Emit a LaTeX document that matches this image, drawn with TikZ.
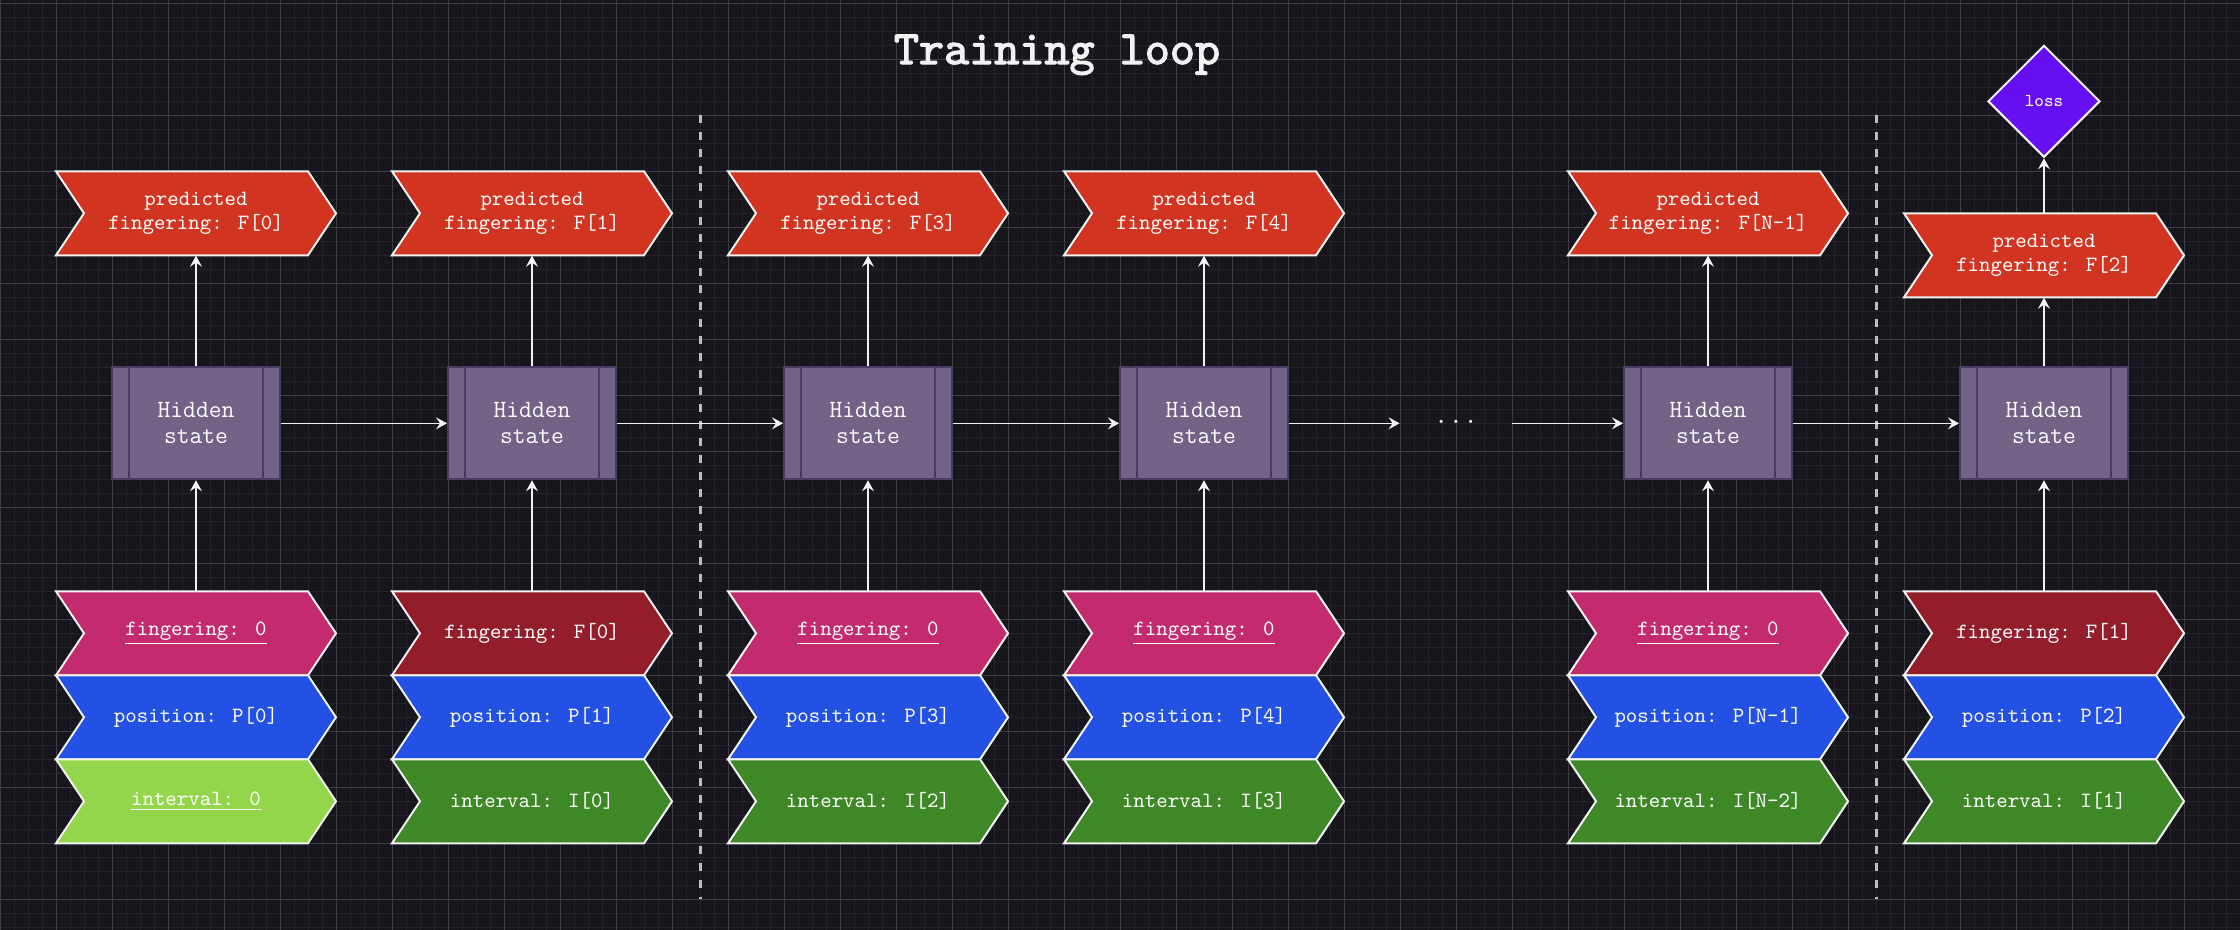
\documentclass[tikz,border=0pt]{standalone}
\usepackage{fontspec}
\newfontfamily\titlefont[FakeBold=2.5]{lmmono10-regular.otf}
\usepackage{xcolor}
\usepackage{tikz}
\usetikzlibrary{arrows.meta,positioning,calc,shapes.geometric}
\definecolor{bgdark}{HTML}{18161D}
\definecolor{gridM}{HTML}{3E3D44}
\definecolor{gridm}{HTML}{24222A}
\definecolor{pred}{HTML}{D13421}
\definecolor{fingP}{HTML}{C42A6E}
\definecolor{fingD}{HTML}{931D2B}
\definecolor{posB}{HTML}{2251E3}
\definecolor{intL}{HTML}{93D64B}
\definecolor{intD}{HTML}{3E8827}
\definecolor{hid}{HTML}{716286}
\definecolor{hidD}{HTML}{4B3A63}
\definecolor{lossV}{HTML}{6610F2}
\definecolor{edge}{HTML}{F2F2F2}
\definecolor{sepc}{HTML}{BDBDBD}

\tikzset{
  chevline/.style={draw=edge, line width=1pt, line join=miter},
  lbl/.style={text=white, font=\ttfamily\fontsize{10.9}{12.3}\selectfont, align=center,
    minimum width=140pt, minimum height=42pt, inner sep=0pt}
}
% chevron: name, centre, fill, text
\newcommand{\chevbox}[4]{%
  \filldraw[fill=#3, chevline] ($(#2)+(-2.5,-0.75)$) -- ++(4.5,0) -- ++(0.5,0.75)
    -- ++(-0.5,0.75) -- ++(-4.5,0) -- ++(0.5,-0.75) -- cycle;
  \node[lbl] (#1) at (#2) {#4};}

\begin{document}
\begin{tikzpicture}[x=28pt, y=-28pt, >={Stealth[length=5.5pt,width=6pt,inset=2pt]},
  hidden/.style={rectangle, fill=hid, draw=hidD, line width=1pt, minimum width=84pt,
    minimum height=56pt, inner sep=0pt, align=center, text=white,
    font=\ttfamily\fontsize{12.4}{13}\selectfont,
    path picture={
      \draw[hidD, line width=1pt] ([xshift=8.5pt]path picture bounding box.north west) -- ([xshift=8.5pt]path picture bounding box.south west);
      \draw[hidD, line width=1pt] ([xshift=-8.5pt]path picture bounding box.north east) -- ([xshift=-8.5pt]path picture bounding box.south east);}},
  link/.style={->, draw=edge, line width=0.75pt},
  sep/.style={draw=sepc, line width=1.5pt, dash pattern=on 4pt off 4.5pt}]

% background and grid
\path[use as bounding box, fill=bgdark] (0,-0.059) rectangle (40,16.548);
\foreach \gx in {0,0.25,...,40} \draw[gridm, line width=0.5pt] (\gx,-0.059) -- (\gx,16.548);
\foreach \gy in {0,0.25,...,16.5} \draw[gridm, line width=0.5pt] (0,\gy) -- (40,\gy);
\foreach \gx in {0,...,40} \draw[gridM, line width=0.5pt] (\gx,-0.059) -- (\gx,16.548);
\foreach \gy in {0,...,16} \draw[gridM, line width=0.5pt] (0,\gy) -- (40,\gy);

\node[anchor=base, text=edge, font=\titlefont\fontsize{23.9}{28}\selectfont] (title) at (18.875,1.084) {Training loop};

% separators
\draw[sep] (12.5,2) -- (12.5,16);
\draw[sep] (33.5,2) -- (33.5,16);

% column 1
\chevbox{p1}{3.5,3.75}{pred}{predicted\\fingering: F[0]}
\chevbox{f1}{3.5,11.25}{fingP}{\underline{fingering: 0}}
\chevbox{q1}{3.5,12.75}{posB}{position: P[0]}
\chevbox{i1}{3.5,14.25}{intL}{\underline{interval: 0}}
\node[hidden] (h1) at (3.5,7.5) {Hidden\\state};
% column 2
\chevbox{p2}{9.5,3.75}{pred}{predicted\\fingering: F[1]}
\chevbox{f2}{9.5,11.25}{fingD}{fingering: F[0]}
\chevbox{q2}{9.5,12.75}{posB}{position: P[1]}
\chevbox{i2}{9.5,14.25}{intD}{interval: I[0]}
\node[hidden] (h2) at (9.5,7.5) {Hidden\\state};
% column 3
\chevbox{p3}{15.5,3.75}{pred}{predicted\\fingering: F[3]}
\chevbox{f3}{15.5,11.25}{fingP}{\underline{fingering: 0}}
\chevbox{q3}{15.5,12.75}{posB}{position: P[3]}
\chevbox{i3}{15.5,14.25}{intD}{interval: I[2]}
\node[hidden] (h3) at (15.5,7.5) {Hidden\\state};
% column 4
\chevbox{p4}{21.5,3.75}{pred}{predicted\\fingering: F[4]}
\chevbox{f4}{21.5,11.25}{fingP}{\underline{fingering: 0}}
\chevbox{q4}{21.5,12.75}{posB}{position: P[4]}
\chevbox{i4}{21.5,14.25}{intD}{interval: I[3]}
\node[hidden] (h4) at (21.5,7.5) {Hidden\\state};
% gap
\node[text=edge, font=\ttfamily\fontsize{14.3}{16}\selectfont, minimum width=56pt, inner sep=0pt] (dots) at (26,7.5) {\raisebox{1.5pt}{...}};
% column 5
\chevbox{p5}{30.5,3.75}{pred}{predicted\\fingering: F[N-1]}
\chevbox{f5}{30.5,11.25}{fingP}{\underline{fingering: 0}}
\chevbox{q5}{30.5,12.75}{posB}{position: P[N-1]}
\chevbox{i5}{30.5,14.25}{intD}{interval: I[N-2]}
\node[hidden] (h5) at (30.5,7.5) {Hidden\\state};
% column 6
\chevbox{p6}{36.5,4.5}{pred}{predicted\\fingering: F[2]}
\chevbox{f6}{36.5,11.25}{fingD}{fingering: F[1]}
\chevbox{q6}{36.5,12.75}{posB}{position: P[2]}
\chevbox{i6}{36.5,14.25}{intD}{interval: I[1]}
\node[hidden] (h6) at (36.5,7.5) {Hidden\\state};
\node[diamond, fill=lossV, draw=edge, line width=1pt, minimum width=56pt, minimum height=56pt,
  inner sep=0pt, text=white, font=\ttfamily\fontsize{9.1}{11}\selectfont] (loss) at (36.5,1.75) {loss};

% arrows
\foreach \k in {1,...,6} {
  \draw[link] (f\k.north) -- (h\k.south);
  \draw[link] (h\k.north) -- (p\k.south);
}
\draw[link] (h1.east) -- (h2.west);
\draw[link] (h2.east) -- (h3.west);
\draw[link] (h3.east) -- (h4.west);
\draw[link] (h4.east) -- (dots.west);
\draw[link] (dots.east) -- (h5.west);
\draw[link] (h5.east) -- (h6.west);
\draw[link] (p6.north) -- (loss.south);
\end{tikzpicture}
\end{document}
